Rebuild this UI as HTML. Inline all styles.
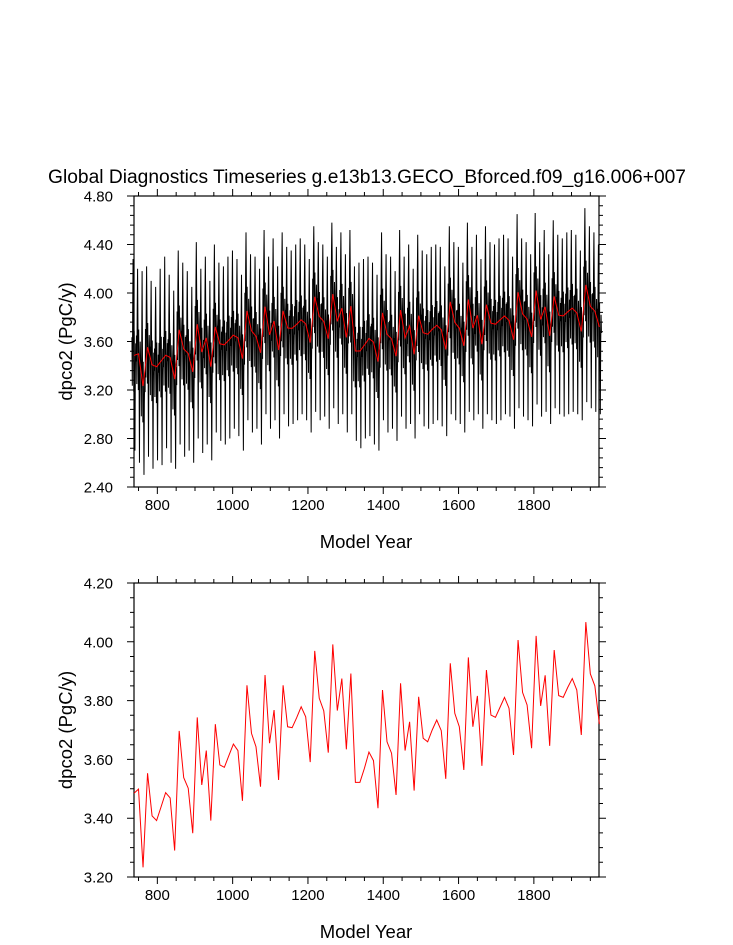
<!DOCTYPE html>
<html><head><meta charset="utf-8">
<style>
html,body{margin:0;padding:0;background:#fff;}
svg{display:block;font-family:"Liberation Sans",Arial,sans-serif;}
</style></head>
<body>
<svg id="chart" width="733" height="945" viewBox="0 0 733 945" xmlns="http://www.w3.org/2000/svg">
<text x="367" y="183" font-size="19" text-anchor="middle" textLength="638" lengthAdjust="spacingAndGlyphs">Global Diagnostics Timeseries g.e13b13.GECO_Bforced.f09_g16.006+007</text>
<g id="top"></g>
<g id="bot"></g>
</svg>
<script>
// ---- data ----
const startYear = 738;
const yearStep = 12;
const annualMean = [3.485,3.499,3.233,3.553,3.408,3.392,3.439,3.487,3.469,3.290,3.697,3.538,3.502,3.349,3.743,3.513,3.630,3.392,3.720,3.581,3.573,3.613,3.652,3.630,3.459,3.852,3.689,3.643,3.507,3.887,3.655,3.768,3.530,3.852,3.711,3.708,3.742,3.779,3.745,3.591,3.969,3.808,3.765,3.623,3.991,3.766,3.875,3.634,3.892,3.522,3.522,3.570,
3.625,3.596,3.434,3.836,3.660,3.621,3.479,3.859,3.630,3.728,3.494,3.813,3.672,3.660,3.700,3.734,3.698,3.534,3.927,3.757,3.711,3.564,3.947,3.711,3.816,3.578,3.904,3.751,3.743,3.777,3.811,3.774,3.615,4.006,3.828,3.785,3.638,4.020,3.782,3.886,3.646,3.972,3.817,3.811,3.845,3.875,3.836,3.683,4.067,3.891,3.850,3.720];
const yearlyMax = [4.28,4.20,4.18,4.22,4.10,4.05,4.20,4.30,4.15,4.02,4.35,4.25,4.18,4.05,4.42,4.20,4.30,4.10,4.40,4.25,4.22,4.30,4.35,4.28,4.15,4.50,4.32,4.30,4.20,4.52,4.30,4.45,4.22,4.50,4.38,4.35,4.40,4.45,4.40,4.28,4.55,4.42,4.40,4.30,4.58,4.38,4.50,4.32,4.52,4.22,4.25,4.28,
4.30,4.25,4.15,4.50,4.32,4.30,4.18,4.52,4.30,4.40,4.20,4.48,4.35,4.32,4.38,4.40,4.38,4.22,4.55,4.42,4.38,4.25,4.58,4.38,4.48,4.28,4.55,4.42,4.40,4.45,4.48,4.45,4.30,4.65,4.45,4.42,4.32,4.66,4.42,4.52,4.32,4.60,4.48,4.45,4.50,4.52,4.48,4.35,4.70,4.55,4.50,4.40];
const yearlyMin = [2.70,2.60,2.50,2.65,2.55,2.62,2.58,2.72,2.60,2.55,2.75,2.65,2.70,2.60,2.80,2.68,2.75,2.62,2.85,2.78,2.75,2.80,2.88,2.82,2.70,2.95,2.85,2.88,2.75,3.00,2.88,2.95,2.80,3.00,2.90,2.92,2.95,3.00,2.95,2.85,3.02,2.95,2.98,2.88,3.05,2.92,3.00,2.85,3.00,2.78,2.72,2.80,
2.82,2.75,2.70,2.95,2.85,2.88,2.78,2.98,2.88,2.92,2.80,3.00,2.90,2.88,2.92,2.95,2.90,2.82,3.00,2.95,2.92,2.85,3.02,2.95,3.00,2.88,3.00,2.95,2.92,2.95,3.00,2.98,2.88,3.05,2.98,2.95,2.90,3.08,2.98,3.02,2.92,3.05,3.00,2.98,3.00,3.02,3.00,2.95,3.10,3.05,3.02,3.00];
const seasonalAnom = [0.15,-0.25,0.35,0,0.25,-0.3,0.2,-0.2,0,-0.15,0.1,-0.05];
const xTickLabels = ["800","1000","1200","1400","1600","1800"];
const topYTickLabels = ["2.40","2.80","3.20","3.60","4.00","4.40","4.80"];
const botYTickLabels = ["3.20","3.40","3.60","3.80","4.00","4.20"];

// ---- layout ----
const NS = "http://www.w3.org/2000/svg";
const L = 134, R = 599, XMIN = 738, XMAX = 1973;
function xs(yr){ return L + (yr - XMIN) / (XMAX - XMIN) * (R - L); }
function mk(tag, attrs, parent){ const e = document.createElementNS(NS, tag); for (const k in attrs) e.setAttribute(k, attrs[k]); parent.appendChild(e); return e; }

function axes(g, T, B, ymin, ymax, ylabels, minorStep, pre){
  const ys = v => B - (v - ymin) / (ymax - ymin) * (B - T);
  const frame = mk("rect", {x:L, y:T, width:R-L, height:B-T, fill:"none", stroke:"#000", "stroke-width":1.2}, g);
  
  
  let d = "";
  for (let yr = 750; yr <= XMAX; yr += 50){
    const x = xs(yr); const major = yr % 200 === 0; const len = major ? 7 : 4;
    d += `M${x},${B}v${len}M${x},${T}v${-len}`;
  }
  for (let v = ymin; v <= ymax + 1e-9; v += minorStep){
    const y = ys(v); const rel = Math.round((v - ymin) / minorStep);
    const major = rel % (ylabels.length > 6 ? 5 : 4) === 0; const len = major ? 7 : 4;
    d += `M${L},${y}h${-len}M${R},${y}h${len}`;
  }
  const ticks = mk("path", {d, stroke:"#000", "stroke-width":1, fill:"none"}, g);
  
  
  xTickLabels.forEach(s => {
    const t = mk("text", {x:xs(+s), y:B+23, "font-size":15, "text-anchor":"middle"}, g);
    t.textContent = s;
    
    
  });
  ylabels.forEach(s => {
    const t = mk("text", {x:113, y:ys(+s)+5.5, "font-size":15, "text-anchor":"end"}, g);
    t.textContent = s;
    
    
  });
  const xt = mk("text", {x:366, y:B+61, "font-size":18.5, "text-anchor":"middle"}, g);
  xt.textContent = "Model Year";
  
  
  const cy = (T + B) / 2;
  const yt = mk("text", {x:72, y:cy, "font-size":18.5, "text-anchor":"middle", transform:`rotate(-90 72 ${cy})`}, g);
  yt.textContent = "dpco2 (PgC/y)";
  
  
  return ys;
}

// top plot
const gt = document.getElementById("top");
const ysT = axes(gt, 196, 487, 2.4, 4.8, topYTickLabels, 0.08, "top");
let pts = [];
annualMean.forEach((m, i) => {
  const yr0 = startYear + i * yearStep - yearStep / 2;
  for (let k = 0; k < 12; k++){
    let v = m + seasonalAnom[k];
    if (k === 3) v = yearlyMax[i];
    if (k === 8) v = yearlyMin[i];
    pts.push(xs(yr0 + (k + 0.5) * yearStep / 12).toFixed(2) + "," + ysT(v).toFixed(2));
  }
});
const black = mk("polyline", {points:pts.join(" "), fill:"none", stroke:"#000", "stroke-width":1}, gt);


const redT = mk("polyline", {points:annualMean.map((v,i)=>xs(startYear+i*yearStep).toFixed(2)+","+ysT(v).toFixed(2)).join(" "), fill:"none", stroke:"#ff0000", "stroke-width":1}, gt);



// bottom plot
const gb = document.getElementById("bot");
const ysB = axes(gb, 583, 877, 3.2, 4.2, botYTickLabels, 0.05, "bottom");
const redB = mk("polyline", {points:annualMean.map((v,i)=>xs(startYear+i*yearStep).toFixed(2)+","+ysB(v).toFixed(2)).join(" "), fill:"none", stroke:"#ff0000", "stroke-width":1}, gb);


</script>
</body></html>
